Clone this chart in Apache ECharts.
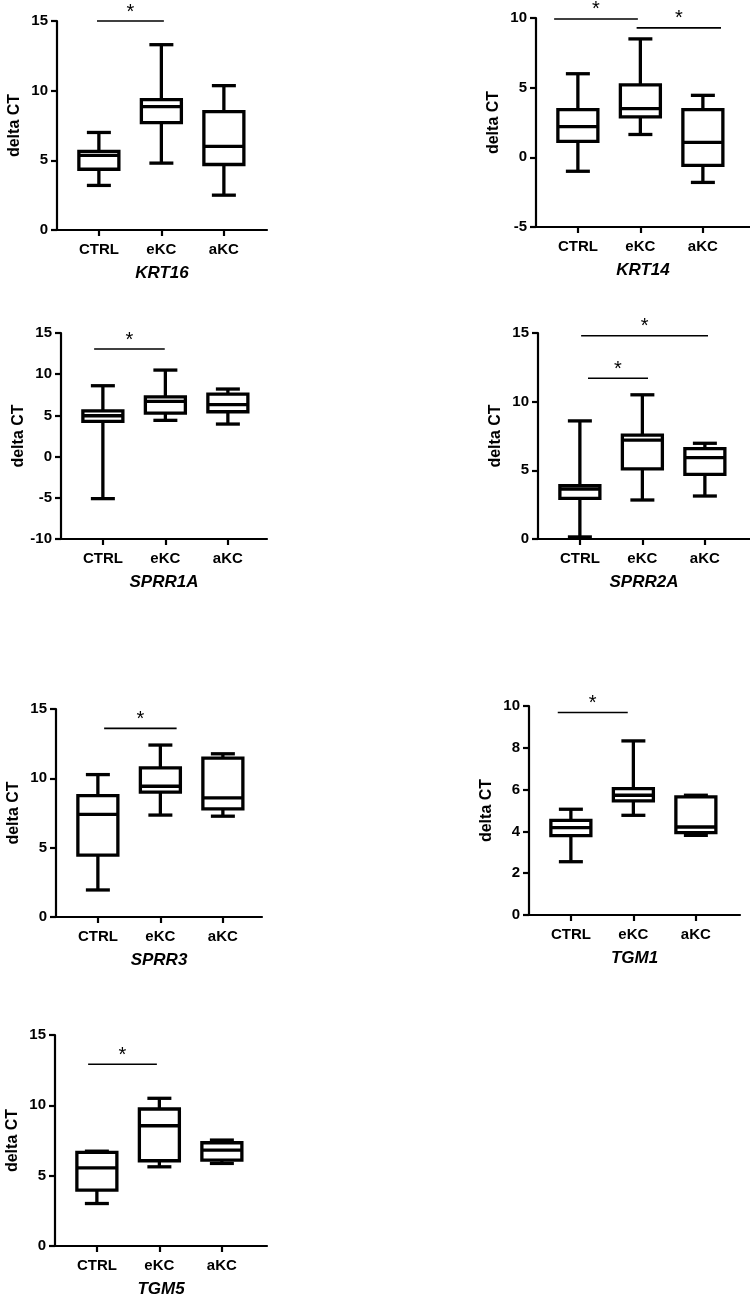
<!DOCTYPE html>
<html><head><meta charset="utf-8">
<script src="https://cdn.jsdelivr.net/npm/echarts@6/dist/echarts.min.js"></script>
<style>html,body{margin:0;padding:0;background:#fff}#c{width:750px;height:1303px}</style>
</head><body><div id="c"></div>
<script>
const categories = ['CTRL', 'eKC', 'aKC'];
const genes = ['KRT16', 'KRT14', 'SPRR1A', 'SPRR2A', 'SPRR3', 'TGM1', 'TGM5'];

// box values per group: [min, Q1, median, Q3, max]
const KRT16  = [[3.2, 4.36, 5.36, 5.64, 7.0],  [4.8, 7.7, 8.86, 9.36, 13.3], [2.5, 4.7, 6.0, 8.5, 10.36]];
const KRT14  = [[-1.0, 1.14, 2.2, 3.43, 6.0],  [1.64, 2.9, 3.5, 5.2, 8.5],   [-1.8, -0.57, 1.07, 3.43, 4.45]];
const SPRR1A = [[-5.1, 4.27, 4.96, 5.56, 8.6], [4.4, 5.28, 6.7, 7.26, 10.5], [3.95, 5.44, 6.3, 7.58, 8.2]];
const SPRR2A = [[0.15, 2.96, 3.64, 3.88, 8.6], [2.84, 5.1, 7.2, 7.57, 10.5], [3.13, 4.71, 5.92, 6.58, 6.97]];
const SPRR3  = [[1.95, 4.46, 7.4, 8.76, 10.27],[7.35, 9.0, 9.43, 10.75, 12.4],[7.27, 7.8, 8.59, 11.46, 11.77]];
const TGM1   = [[2.55, 3.8, 4.18, 4.53, 5.06], [4.77, 5.46, 5.73, 6.05, 8.33],[3.81, 3.94, 4.21, 5.65, 5.73]];
const TGM5   = [[3.02, 3.97, 5.56, 6.65, 6.74],[5.63, 6.06, 8.55, 9.74, 10.5],[5.87, 6.1, 6.82, 7.34, 7.53]];
const boxValues = [KRT16, KRT14, SPRR1A, SPRR2A, SPRR3, TGM1, TGM5];

// y-axis tick labels
const yMin  = [0, -5, -10, 0, 0, 0, 0];
const yMax  = [15, 10, 15, 15, 15, 10, 15];
const yStep = [5, 5, 5, 5, 5, 2, 5];

// significance bars: [xStart, xEnd, level] (x in group units, 1 = CTRL)
const sigKRT16  = [[0.97, 2.04, 15]];
const sigKRT14  = [[0.62, 1.96, 9.93], [1.94, 3.29, 9.29]];
const sigSPRR1A = [[0.86, 1.99, 13.06]];
const sigSPRR2A = [[1.02, 3.05, 14.8], [1.13, 2.09, 11.7]];
const sigSPRR3  = [[1.10, 2.26, 13.6]];
const sigTGM1   = [[0.79, 1.91, 9.69]];
const sigTGM5   = [[0.86, 1.96, 12.92]];
const sigBars = [sigKRT16, sigKRT14, sigSPRR1A, sigSPRR2A, sigSPRR3, sigTGM1, sigTGM5];

// layout (pixels)
const layout = [
  {left: 57,  top: 21,   width: 210, height: 209},
  {left: 536, top: 18,   width: 214, height: 209},
  {left: 61,  top: 333,  width: 206, height: 206},
  {left: 538, top: 333,  width: 212, height: 206},
  {left: 56,  top: 709,  width: 206, height: 208},
  {left: 529, top: 706,  width: 211, height: 209},
  {left: 55,  top: 1035, width: 212, height: 211}
];
const pxPerGroup = 62.5;
const xMin = 0.33;
const FONT = 'Liberation Sans, Arial, sans-serif';

const chart = echarts.init(document.getElementById('c'), null, {renderer: 'canvas'});

const grids = [], xAxes = [], yAxes = [], series = [];
layout.forEach((L, i) => {
  grids.push({left: L.left, top: L.top, width: L.width, height: L.height, containLabel: false});
  xAxes.push({
    gridIndex: i, type: 'value', min: xMin, max: xMin + L.width / pxPerGroup,
    name: genes[i], nameLocation: 'middle', nameGap: 35,
    nameTextStyle: {fontFamily: FONT, fontStyle: 'italic', fontWeight: 'bold', fontSize: 17, color: '#000'},
    splitLine: {show: false},
    axisLine: {onZero: false, lineStyle: {color: '#000', width: 2.2}},
    axisTick: {customValues: [1, 2, 3], length: 6, lineStyle: {color: '#000', width: 2.2}},
    axisLabel: {customValues: [1, 2, 3], formatter: v => categories[Math.round(v) - 1] || '',
      fontFamily: FONT, fontWeight: 'bold', fontSize: 15, color: '#000', margin: 12}
  });
  yAxes.push({
    gridIndex: i, type: 'value', min: yMin[i], max: yMax[i], interval: yStep[i],
    name: 'delta CT', nameLocation: 'middle', nameGap: 34,
    nameTextStyle: {fontFamily: FONT, fontWeight: 'bold', fontSize: 16, color: '#000'},
    splitLine: {show: false},
    axisLine: {show: true, onZero: false, lineStyle: {color: '#000', width: 2.2}},
    axisTick: {show: true, length: 6, lineStyle: {color: '#000', width: 2.2}},
    axisLabel: {fontFamily: FONT, fontWeight: 'bold', fontSize: 15, color: '#000', margin: 9}
  });
  const data = boxValues[i].map((b, g) => [g + 1].concat(b));
  series.push({
    type: 'custom', xAxisIndex: i, yAxisIndex: i, clip: false,
    encode: {x: 0, y: [1, 2, 3, 4, 5]},
    data: data,
    renderItem: (params, api) => {
      const x = api.value(0);
      const pMin = api.coord([x, api.value(1)]);
      const pQ1 = api.coord([x, api.value(2)]);
      const pMed = api.coord([x, api.value(3)]);
      const pQ3 = api.coord([x, api.value(4)]);
      const pMax = api.coord([x, api.value(5)]);
      const cx = pMed[0], hw = 20, cw = 12;
      const st = {stroke: '#000', lineWidth: 3.3, fill: null};
      return {type: 'group', children: [
        {type: 'line', shape: {x1: cx, y1: pQ3[1], x2: cx, y2: pMax[1]}, style: st},
        {type: 'line', shape: {x1: cx, y1: pQ1[1], x2: cx, y2: pMin[1]}, style: st},
        {type: 'line', shape: {x1: cx - cw, y1: pMax[1], x2: cx + cw, y2: pMax[1]}, style: st},
        {type: 'line', shape: {x1: cx - cw, y1: pMin[1], x2: cx + cw, y2: pMin[1]}, style: st},
        {type: 'rect', shape: {x: cx - hw, y: pQ3[1], width: 2 * hw, height: pQ1[1] - pQ3[1]},
          style: {stroke: '#000', lineWidth: 3.3, fill: '#fff'}},
        {type: 'line', shape: {x1: cx - hw, y1: pMed[1], x2: cx + hw, y2: pMed[1]}, style: st}
      ]};
    }
  });
  series.push({
    type: 'custom', xAxisIndex: i, yAxisIndex: i, clip: false,
    encode: {x: [0, 1], y: 2},
    data: sigBars[i],
    renderItem: (params, api) => {
      const a = api.coord([api.value(0), api.value(2)]);
      const b = api.coord([api.value(1), api.value(2)]);
      return {type: 'group', children: [
        {type: 'line', shape: {x1: a[0], y1: a[1], x2: b[0], y2: b[1]}, style: {stroke: '#000', lineWidth: 1.6}},
        {type: 'text', x: (a[0] + b[0]) / 2, y: a[1] - 9,
          style: {text: '*', fontFamily: FONT, fontSize: 20, fill: '#000', align: 'center', verticalAlign: 'middle'}}
      ]};
    }
  });
});

chart.setOption({
  backgroundColor: '#fff', animation: false,
  grid: grids, xAxis: xAxes, yAxis: yAxes, series: series
});
</script></body></html>
